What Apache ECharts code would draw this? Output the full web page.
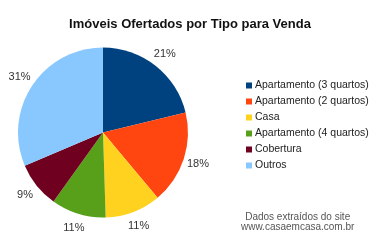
<!DOCTYPE html>
<html><head><meta charset="utf-8">
<script src="https://cdn.jsdelivr.net/npm/echarts@6/dist/echarts.min.js"></script>
<style>html,body{margin:0;padding:0;background:#fff}#c{width:380px;height:251px}</style>
</head><body><div id="c"></div>
<script>
const categories = ['Apartamento (3 quartos)','Apartamento (2 quartos)','Casa','Apartamento (4 quartos)','Cobertura','Outros'];
const values = [21.2, 17.7, 10.6, 10.4, 8.7, 31.4];
const percentLabels = ['21%','18%','11%','11%','9%','31%'];
const colors = ['#00427F','#FF4510','#FFD21F','#58A01A','#700020','#88C8FF'];
const titleText = 'Imóveis Ofertados por Tipo para Venda';
const footerLines = ['Dados extraídos do site','www.casaemcasa.com.br'];

const chart = echarts.init(document.getElementById('c'), null, {renderer:'canvas'});
const pieData = categories.map((n,i)=>({name:n,value:values[i],itemStyle:{color:colors[i]}}));
chart.setOption({
  animation:false,
  title:{text:titleText,left:'center',top:13,textStyle:{fontFamily:'Liberation Sans, Arial',fontSize:13,fontWeight:'bold',color:'#111'}},
  legend:{orient:'vertical',left:241,top:75,itemWidth:6,itemHeight:6,itemGap:5,icon:'rect',
    textStyle:{fontFamily:'Liberation Sans, Arial',fontSize:10.5,color:'#222',padding:[0,0,0,-2]},
    data:categories},
  graphic:[
    {type:'text',left:241,top:212,style:{text:footerLines[0]+'\n'+footerLines[1],font:'10px "Liberation Sans", Arial',fill:'#555',textAlign:'center',lineHeight:10}}
  ],
  series:[{
    type:'pie',center:[103,132.5],radius:85,startAngle:90,clockwise:true,
    label:{show:false},labelLine:{show:false},
    itemStyle:{borderWidth:0},
    emphasis:{disabled:true},
    data:pieData
  },{
    type:'pie',center:[103,132.5],radius:[93,101],startAngle:90,clockwise:true,silent:true,
    label:{show:true,position:'inside',fontFamily:'Liberation Sans, Arial',fontSize:11,color:'#333',
      formatter:p=>percentLabels[p.dataIndex]},
    labelLine:{show:false},
    itemStyle:{color:'rgba(0,0,0,0)',borderWidth:0},
    emphasis:{disabled:true},
    data:categories.map((n,i)=>({name:n,value:values[i],itemStyle:{color:'rgba(0,0,0,0)'}}))
  }]
});
</script></body></html>
